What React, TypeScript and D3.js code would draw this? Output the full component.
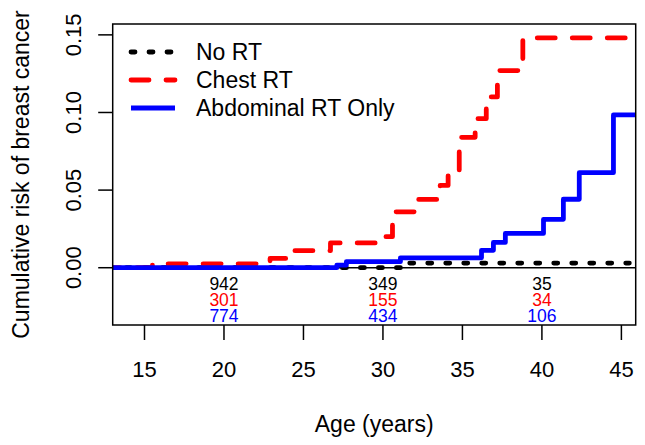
import React from "react";
import * as d3 from "d3";

// ---- data ----
const ageTicks = [15, 20, 25, 30, 35, 40, 45];
const riskTicks = [0, 0.05, 0.1, 0.15];

const seriesNames = ["No RT", "Chest RT", "Abdominal RT Only"];

const noRtAges = [31.1];
const noRtRisk = [0.003];

const chestAges = [15.5, 22.9, 24.4, 26.7, 30.1, 30.6, 32.1, 33.6, 34.1, 34.8, 35.8, 36.5, 37.2, 38.8];
const chestRisk = [0.0025, 0.006, 0.011, 0.016, 0.02, 0.036, 0.044, 0.053, 0.061, 0.084, 0.096, 0.11, 0.127, 0.148];

const abdAges = [27.1, 27.7, 31.1, 36.2, 36.95, 37.7, 40.1, 41.35, 42.35, 44.5];
const abdRisk = [0.0017, 0.0039, 0.0064, 0.0112, 0.0163, 0.0221, 0.0312, 0.0441, 0.0612, 0.0984];

const atRiskAges = [20, 30, 40];
const atRiskNoRt = [942, 349, 35];
const atRiskChest = [301, 155, 34];
const atRiskAbd = [774, 434, 106];

// ---- layout ----
const W = 645;
const H = 445;
const L = 112.7;
const R = 635.7;
const T = 24;
const B = 325;
const FONT = "'Liberation Sans', Arial, Helvetica, sans-serif";

const x = d3.scaleLinear().domain([13.0, 45.9]).range([L, R]);
const y = d3.scaleLinear().domain([-0.0369, 0.157]).range([B, T]);

const START_AGE = 13.0;

function stepPoints(ages: number[], vals: number[], endAge: number): [number, number][] {
  const pts: [number, number][] = [[START_AGE, 0]];
  ages.forEach((a, i) => pts.push([a, vals[i]]));
  pts.push([endAge, vals[vals.length - 1]]);
  return pts;
}

const line = d3
  .line<[number, number]>()
  .x((d) => x(d[0]))
  .y((d) => y(d[1]))
  .curve(d3.curveStepAfter);

const LW = 4.8;

const series = [
  { name: seriesNames[0], color: "#000000", dash: "4 14", offset: 4.3, d: line(stepPoints(noRtAges, noRtRisk, 45.5)) },
  { name: seriesNames[1], color: "#ff0000", dash: "18 17", offset: 10.7, d: line(stepPoints(chestAges, chestRisk, 45.5)) },
  { name: seriesNames[2], color: "#0000ff", dash: "none", offset: 0, d: line(stepPoints(abdAges, abdRisk, 46.5)) },
];

const riskRows = [
  { vals: atRiskNoRt, color: "#000000" },
  { vals: atRiskChest, color: "#ff0000" },
  { vals: atRiskAbd, color: "#0000ff" },
];

export default function App() {
  return (
    <svg
      width={W}
      height={H}
      viewBox={`0 0 ${W} ${H}`}
      style={{ position: "absolute", left: 0, top: 0, background: "#fff" }}
      fontFamily={FONT}
    >
      <rect x={0} y={0} width={W} height={H} fill="#fff" />
      <defs>
        <clipPath id="plotClip">
          <rect x={L} y={T} width={R - L} height={B - T} />
        </clipPath>
      </defs>

      {/* zero reference line */}
      <line x1={L} x2={R} y1={y(0)} y2={y(0)} stroke="#000" strokeWidth={1.5} />

      {/* series */}
      <g clipPath="url(#plotClip)">
        {series.map((s) => (
          <path
            key={s.name}
            d={s.d || ""}
            fill="none"
            stroke={s.color}
            strokeWidth={LW}
            strokeDasharray={s.dash}
            strokeDashoffset={s.offset}
            strokeLinecap={s.dash === "none" ? "butt" : "round"}
            strokeLinejoin="round"
          />
        ))}
      </g>

      {/* number at risk */}
      {riskRows.map((row, ri) =>
        atRiskAges.map((a, i) => (
          <text
            key={`${ri}-${i}`}
            x={x(a)}
            y={283.5 + ri * 16}
            fill={row.color}
            fontSize={17.5}
            textAnchor="middle"
            dominantBaseline="central"
          >
            {row.vals[i]}
          </text>
        ))
      )}

      {/* box */}
      <rect x={L} y={T} width={R - L} height={B - T} fill="none" stroke="#000" strokeWidth={1.5} />

      {/* x axis */}
      {ageTicks.map((t) => (
        <g key={`x${t}`}>
          <line x1={x(t)} x2={x(t)} y1={B} y2={B + 15} stroke="#000" strokeWidth={1.5} />
          <text x={x(t)} y={377} fontSize={22} textAnchor="middle" fill="#000">
            {t}
          </text>
        </g>
      ))}
      <text x={(L + R) / 2} y={432} fontSize={23} textAnchor="middle" fill="#000">
        Age (years)
      </text>

      {/* y axis */}
      {riskTicks.map((t) => (
        <g key={`y${t}`}>
          <line x1={L - 14.5} x2={L} y1={y(t)} y2={y(t)} stroke="#000" strokeWidth={1.5} />
          <text
            transform={`translate(81,${y(t)}) rotate(-90)`}
            fontSize={22}
            textAnchor="middle"
            fill="#000"
          >
            {t.toFixed(2)}
          </text>
        </g>
      ))}
      <text
        transform={`translate(29,${(T + B) / 2}) rotate(-90)`}
        fontSize={23}
        textAnchor="middle"
        fill="#000"
      >
        Cumulative risk of breast cancer
      </text>

      {/* legend */}
      {series.map((s, i) => (
        <g key={`leg${i}`}>
          <line
            x1={131}
            x2={175}
            y1={52 + i * 28}
            y2={52 + i * 28}
            stroke={s.color}
            strokeWidth={LW}
            strokeDasharray={s.dash}
            strokeLinecap={s.dash === "none" ? "butt" : "round"}
          />
          <text x={196} y={52 + i * 28} fontSize={23} dominantBaseline="central" fill="#000">
            {s.name}
          </text>
        </g>
      ))}
    </svg>
  );
}
